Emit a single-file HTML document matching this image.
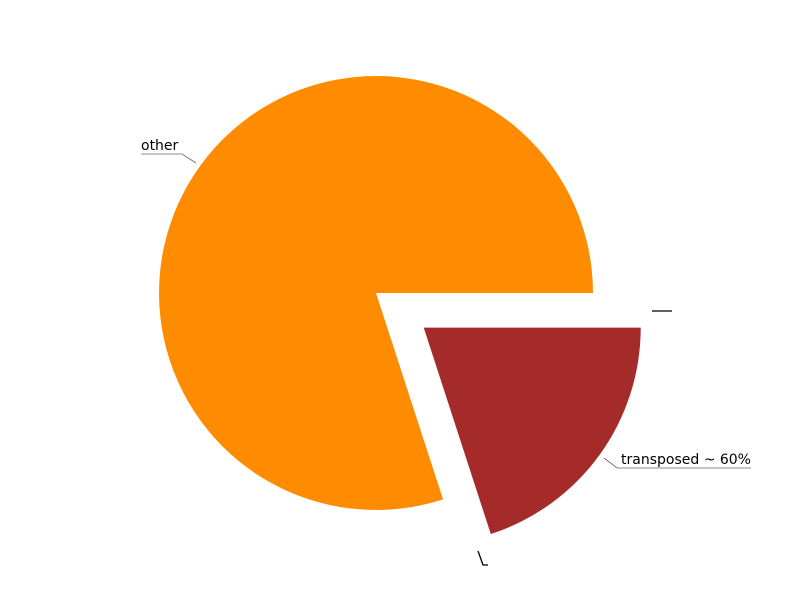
<!DOCTYPE html>
<html><head><meta charset="utf-8"><style>body{margin:0;background:#fff}svg{display:block}</style></head>
<body>
<svg id="chart" width="800" height="600" xmlns="http://www.w3.org/2000/svg" font-family="DejaVu Sans, Liberation Sans, sans-serif" font-size="14">
<rect width="800" height="600" fill="#fff"/>
<g id="slices"></g>
<line x1="652" y1="311" x2="672" y2="311" stroke="#000" stroke-width="1.3"/>
<polyline points="478,551 483,565 488,565" fill="none" stroke="#000" stroke-width="1.3"/>
<polyline points="141,154 182,154 196,163" fill="none" stroke="#666" stroke-width="0.8"/>
<text x="141" y="150" fill="#000">other</text>
<polyline points="604,458 617,468 751,468" fill="none" stroke="#666" stroke-width="0.8"/>
<text x="621" y="464" fill="#000">transposed ~ 60%</text>
</svg>
<script>
const categories = ["transposed", "other"];
const values = [20, 80];
const colors = ["#a52a2a", "#ff8c00"];
const explode = [59, 0];
const cx = 376, cy = 293, r = 217;
const total = values.reduce((a, b) => a + b, 0);
const g = document.getElementById('slices');
let start = 0;
values.forEach((v, i) => {
  const sweep = v / total * 2 * Math.PI;
  const mid = start + sweep / 2;
  const ox = cx + explode[i] * Math.cos(mid), oy = cy + explode[i] * Math.sin(mid);
  const x1 = ox + r * Math.cos(start), y1 = oy + r * Math.sin(start);
  const x2 = ox + r * Math.cos(start + sweep), y2 = oy + r * Math.sin(start + sweep);
  const large = sweep > Math.PI ? 1 : 0;
  const p = document.createElementNS('http://www.w3.org/2000/svg', 'path');
  p.setAttribute('d', `M${ox},${oy} L${x1},${y1} A${r},${r} 0 ${large} 1 ${x2},${y2} Z`);
  p.setAttribute('fill', colors[i]);
  
  
  g.appendChild(p);
  start += sweep;
});
</script>
</body></html>
